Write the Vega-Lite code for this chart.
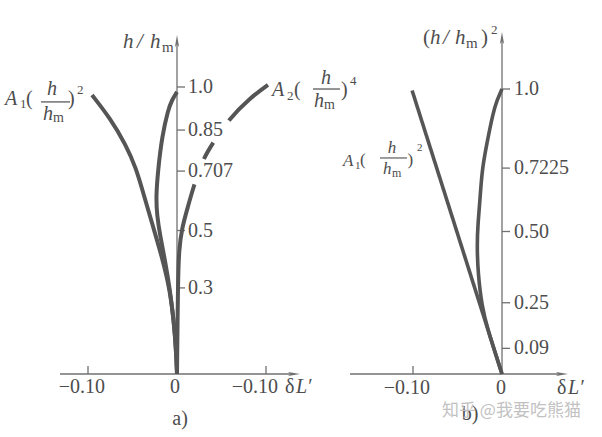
{
  "$schema": "https://vega.github.io/schema/vega-lite/v6.json",
  "padding": 0,
  "background": "white",
  "bounds": "flush",
  "spacing": 0,
  "config": {
    "view": {"stroke": null},
    "axis": {"disable": true},
    "text": {"font": "Liberation Serif", "color": "#4d4d4d", "align": "left", "baseline": "middle", "fontSize": 20}
  },
  "datasets": {
    "a": [
      {"c": "A1", "x": -0.0955, "h": 0.972}, {"c": "A1", "x": -0.0753, "h": 0.892}, {"c": "A1", "x": -0.0573, "h": 0.798}, {"c": "A1", "x": -0.0461, "h": 0.718}, {"c": "A1", "x": -0.0382, "h": 0.634}, {"c": "A1", "x": -0.0281, "h": 0.526}, {"c": "A1", "x": -0.0169, "h": 0.408}, {"c": "A1", "x": -0.0079, "h": 0.293}, {"c": "A1", "x": -0.0034, "h": 0.178}, {"c": "A1", "x": -0.0011, "h": 0.084}, {"c": "A1", "x": 0, "h": 0},
      {"c": "mid", "x": 0, "h": 0.983}, {"c": "mid", "x": -0.0056, "h": 0.955}, {"c": "mid", "x": -0.0101, "h": 0.92}, {"c": "mid", "x": -0.0169, "h": 0.826}, {"c": "mid", "x": -0.0213, "h": 0.711}, {"c": "mid", "x": -0.0236, "h": 0.617}, {"c": "mid", "x": -0.0225, "h": 0.554}, {"c": "mid", "x": -0.0191, "h": 0.484}, {"c": "mid", "x": -0.0135, "h": 0.397}, {"c": "mid", "x": -0.0079, "h": 0.293}, {"c": "mid", "x": -0.0034, "h": 0.178}, {"c": "mid", "x": -0.0011, "h": 0.084}, {"c": "mid", "x": 0, "h": 0},
      {"c": "A2", "x": 0.1022, "h": 1.007}, {"c": "A2", "x": 0.082, "h": 0.962}, {"c": "A2", "x": 0.0573, "h": 0.885}, {"c": "A2", "x": 0.0404, "h": 0.805}, {"c": "A2", "x": 0.0292, "h": 0.749}, {"c": "A2", "x": 0.0191, "h": 0.659}, {"c": "A2", "x": 0.0112, "h": 0.571}, {"c": "A2", "x": 0.0056, "h": 0.509}, {"c": "A2", "x": 0.0022, "h": 0.432}, {"c": "A2", "x": 0.0011, "h": 0.328}, {"c": "A2", "x": 0, "h": 0}
    ],
    "b": [
      {"c": "A1", "x": -0.101, "h2": 0.995}, {"c": "A1", "x": 0, "h2": 0},
      {"c": "mid", "x": 0, "h2": 1.0}, {"c": "mid", "x": -0.0056, "h2": 0.961}, {"c": "mid", "x": -0.0101, "h2": 0.916}, {"c": "mid", "x": -0.0169, "h2": 0.811}, {"c": "mid", "x": -0.0225, "h2": 0.716}, {"c": "mid", "x": -0.0247, "h2": 0.611}, {"c": "mid", "x": -0.027, "h2": 0.53}, {"c": "mid", "x": -0.0281, "h2": 0.453}, {"c": "mid", "x": -0.027, "h2": 0.354}, {"c": "mid", "x": -0.0225, "h2": 0.235}, {"c": "mid", "x": -0.0157, "h2": 0.154}, {"c": "mid", "x": -0.0079, "h2": 0.077}, {"c": "mid", "x": 0, "h2": 0}
    ],
    "ya": [{"v": 0.3, "t": "0.3"}, {"v": 0.5, "t": "0.5"}, {"v": 0.707, "t": "0.707"}, {"v": 0.85, "t": "0.85"}, {"v": 1, "t": "1.0"}],
    "xa": [{"v": -0.1, "t": "−0.10"}, {"v": 0, "t": "0"}, {"v": 0.1, "t": "−0.10"}],
    "yb": [{"v": 0.09, "t": "0.09"}, {"v": 0.25, "t": "0.25"}, {"v": 0.5, "t": "0.50"}, {"v": 0.7225, "t": "0.7225"}, {"v": 1, "t": "1.0"}],
    "xb": [{"v": -0.1, "t": "−0.10"}, {"v": 0, "t": "0"}]
  },
  "hconcat": [
    {
      "width": 301,
      "height": 437,
      "layer": [
        {"data": {"values": [{}]}, "mark": {"type": "rule", "color": "#707070", "strokeWidth": 1.3},
         "encoding": {
           "x": {"datum": -0.1315, "type": "quantitative", "scale": {"domain": [-0.19888, 0.13933], "nice": false, "zero": false}},
           "x2": {"datum": 0.1315},
           "y": {"datum": 0, "type": "quantitative", "scale": {"domain": [-0.21951, 1.30314], "nice": false, "zero": false}}
         }},
        {"data": {"values": [{}]}, "mark": {"type": "rule", "color": "#707070", "strokeWidth": 1.3},
         "encoding": {"x": {"datum": 0}, "y": {"datum": 0}, "y2": {"datum": 1.16}}},
        {"data": {"values": [{}]}, "mark": {"type": "point", "shape": "M0,-1L0.35,1L0,0.55L-0.35,1Z", "size": 144, "filled": true, "color": "#707070", "opacity": 1},
         "encoding": {"x": {"datum": 0}, "y": {"datum": 1.1603}}},
        {"data": {"values": [{}]}, "mark": {"type": "point", "shape": "M1,0L-1,0.35L-0.55,0L-1,-0.35Z", "size": 144, "filled": true, "color": "#707070", "opacity": 1},
         "encoding": {"x": {"datum": 0.1315}, "y": {"datum": 0}}},
        {"data": {"name": "ya"}, "mark": {"type": "tick", "orient": "horizontal", "size": 8, "thickness": 1.3, "xOffset": 4, "color": "#707070", "opacity": 1},
         "encoding": {"x": {"datum": 0}, "y": {"field": "v", "type": "quantitative"}}},
        {"data": {"name": "ya"}, "mark": {"type": "text", "dx": 11},
         "encoding": {"x": {"datum": 0}, "y": {"field": "v", "type": "quantitative"}, "text": {"field": "t"}}},
        {"data": {"name": "xa"}, "transform": [{"filter": "datum.v !== 0"}], "mark": {"type": "tick", "orient": "vertical", "size": 8, "thickness": 1.3, "yOffset": -4, "color": "#707070", "opacity": 1},
         "encoding": {"x": {"field": "v", "type": "quantitative"}, "y": {"datum": 0}}},
        {"data": {"name": "xa"}, "transform": [{"filter": "datum.v < 0"}], "mark": {"type": "text", "align": "right", "baseline": "alphabetic", "dx": 17, "dy": 19},
         "encoding": {"x": {"field": "v", "type": "quantitative"}, "y": {"datum": 0}, "text": {"field": "t"}}},
        {"data": {"name": "xa"}, "transform": [{"filter": "datum.v > 0"}], "mark": {"type": "text", "align": "right", "baseline": "alphabetic", "dx": 12, "dy": 19},
         "encoding": {"x": {"field": "v", "type": "quantitative"}, "y": {"datum": 0}, "text": {"field": "t"}}},
        {"data": {"name": "xa"}, "transform": [{"filter": "datum.v === 0"}], "mark": {"type": "text", "align": "center", "baseline": "alphabetic", "dx": -2, "dy": 19},
         "encoding": {"x": {"field": "v", "type": "quantitative"}, "y": {"datum": 0}, "text": {"field": "t"}}},
        {"data": {"name": "a"}, "transform": [{"filter": "datum.c !== 'A2'"}],
         "mark": {"type": "line", "color": "#555555", "strokeWidth": 4, "interpolate": "basis"},
         "encoding": {"x": {"field": "x", "type": "quantitative"}, "y": {"field": "h", "type": "quantitative"}, "detail": {"field": "c"}, "order": {"value": null}}},
        {"data": {"name": "a"}, "transform": [{"filter": "datum.c === 'A2'"}],
         "mark": {"type": "line", "color": "#555555", "strokeWidth": 4, "interpolate": "basis", "strokeDash": [53, 27, 19, 27, 2000]},
         "encoding": {"x": {"field": "x", "type": "quantitative"}, "y": {"field": "h", "type": "quantitative"}, "order": {"value": null}}},

        {"data": {"values": [{}]}, "mark": {"type": "text", "text": "A", "fontStyle": "italic"}, "encoding": {"x": {"datum": -0.1933}, "y": {"datum": 0.958}}},
        {"data": {"values": [{}]}, "mark": {"type": "text", "text": "1", "fontSize": 13}, "encoding": {"x": {"datum": -0.1764}, "y": {"datum": 0.941}}},
        {"data": {"values": [{}]}, "mark": {"type": "text", "text": "("}, "encoding": {"x": {"datum": -0.1697}, "y": {"datum": 0.958}}},
        {"data": {"values": [{}]}, "mark": {"type": "text", "text": "h", "fontStyle": "italic", "align": "center"}, "encoding": {"x": {"datum": -0.1404}, "y": {"datum": 0.993}}},
        {"data": {"values": [{}]}, "mark": {"type": "rule", "color": "#4d4d4d", "strokeWidth": 1.2}, "encoding": {"x": {"datum": -0.1528}, "x2": {"datum": -0.1202}, "y": {"datum": 0.948}}},
        {"data": {"values": [{}]}, "mark": {"type": "text", "text": "h", "fontStyle": "italic"}, "encoding": {"x": {"datum": -0.1506}, "y": {"datum": 0.906}}},
        {"data": {"values": [{}]}, "mark": {"type": "text", "text": "m", "fontSize": 14}, "encoding": {"x": {"datum": -0.1393}, "y": {"datum": 0.892}}},
        {"data": {"values": [{}]}, "mark": {"type": "text", "text": ")"}, "encoding": {"x": {"datum": -0.1225}, "y": {"datum": 0.958}}},
        {"data": {"values": [{}]}, "mark": {"type": "text", "text": "2", "fontSize": 13}, "encoding": {"x": {"datum": -0.1124}, "y": {"datum": 0.99}}},

        {"data": {"values": [{}]}, "mark": {"type": "text", "text": "A", "fontStyle": "italic"}, "encoding": {"x": {"datum": 0.1067}, "y": {"datum": 0.99}}},
        {"data": {"values": [{}]}, "mark": {"type": "text", "text": "2", "fontSize": 13}, "encoding": {"x": {"datum": 0.1236}, "y": {"datum": 0.969}}},
        {"data": {"values": [{}]}, "mark": {"type": "text", "text": "("}, "encoding": {"x": {"datum": 0.1315}, "y": {"datum": 0.99}}},
        {"data": {"values": [{}]}, "mark": {"type": "text", "text": "h", "fontStyle": "italic", "align": "center"}, "encoding": {"x": {"datum": 0.1674}, "y": {"datum": 1.031}}},
        {"data": {"values": [{}]}, "mark": {"type": "rule", "color": "#4d4d4d", "strokeWidth": 1.2}, "encoding": {"x": {"datum": 0.1528}, "x2": {"datum": 0.1831}, "y": {"datum": 0.993}}},
        {"data": {"values": [{}]}, "mark": {"type": "text", "text": "h", "fontStyle": "italic"}, "encoding": {"x": {"datum": 0.1539}, "y": {"datum": 0.951}}},
        {"data": {"values": [{}]}, "mark": {"type": "text", "text": "m", "fontSize": 14}, "encoding": {"x": {"datum": 0.1652}, "y": {"datum": 0.937}}},
        {"data": {"values": [{}]}, "mark": {"type": "text", "text": ")"}, "encoding": {"x": {"datum": 0.1843}, "y": {"datum": 0.99}}},
        {"data": {"values": [{}]}, "mark": {"type": "text", "text": "4", "fontSize": 13}, "encoding": {"x": {"datum": 0.1944}, "y": {"datum": 1.021}}},

        {"data": {"values": [{}]}, "mark": {"type": "text", "text": "h", "fontStyle": "italic", "fontSize": 21}, "encoding": {"x": {"datum": -0.0607}, "y": {"datum": 1.157}}},
        {"data": {"values": [{}]}, "mark": {"type": "text", "text": "/", "fontStyle": "italic", "fontSize": 21}, "encoding": {"x": {"datum": -0.0449}, "y": {"datum": 1.157}}},
        {"data": {"values": [{}]}, "mark": {"type": "text", "text": "h", "fontStyle": "italic", "fontSize": 21}, "encoding": {"x": {"datum": -0.0303}, "y": {"datum": 1.157}}},
        {"data": {"values": [{}]}, "mark": {"type": "text", "text": "m", "fontSize": 15}, "encoding": {"x": {"datum": -0.0169}, "y": {"datum": 1.14}}},

        {"data": {"values": [{}]}, "mark": {"type": "text", "text": "δ"}, "encoding": {"x": {"datum": 0.1214}, "y": {"datum": -0.0453}}},
        {"data": {"values": [{}]}, "mark": {"type": "text", "text": "L′", "fontStyle": "italic"}, "encoding": {"x": {"datum": 0.1337}, "y": {"datum": -0.0453}}},
        {"data": {"values": [{}]}, "mark": {"type": "text", "text": "a)", "align": "center"}, "encoding": {"x": {"datum": 0.0034}, "y": {"datum": -0.1568}}}
      ]
    },
    {
      "width": 301,
      "height": 437,
      "layer": [
        {"data": {"values": [{}]}, "mark": {"type": "rule", "color": "#707070", "strokeWidth": 1.3},
         "encoding": {
           "x": {"datum": -0.1708, "type": "quantitative", "scale": {"domain": [-0.22584, 0.11236], "nice": false, "zero": false}},
           "x2": {"datum": 0.0674},
           "y": {"datum": 0, "type": "quantitative", "scale": {"domain": [-0.22105, 1.31228], "nice": false, "zero": false}}
         }},
        {"data": {"values": [{}]}, "mark": {"type": "rule", "color": "#707070", "strokeWidth": 1.3},
         "encoding": {"x": {"datum": 0}, "y": {"datum": 0}, "y2": {"datum": 1.1789}}},
        {"data": {"values": [{}]}, "mark": {"type": "point", "shape": "M0,-1L0.35,1L0,0.55L-0.35,1Z", "size": 144, "filled": true, "color": "#707070", "opacity": 1},
         "encoding": {"x": {"datum": 0}, "y": {"datum": 1.1789}}},
        {"data": {"values": [{}]}, "mark": {"type": "point", "shape": "M1,0L-1,0.35L-0.55,0L-1,-0.35Z", "size": 144, "filled": true, "color": "#707070", "opacity": 1},
         "encoding": {"x": {"datum": 0.0674}, "y": {"datum": 0}}},
        {"data": {"name": "yb"}, "mark": {"type": "tick", "orient": "horizontal", "size": 8, "thickness": 1.3, "xOffset": 4, "color": "#707070", "opacity": 1},
         "encoding": {"x": {"datum": 0}, "y": {"field": "v", "type": "quantitative"}}},
        {"data": {"name": "yb"}, "mark": {"type": "text", "dx": 12},
         "encoding": {"x": {"datum": 0}, "y": {"field": "v", "type": "quantitative"}, "text": {"field": "t"}}},
        {"data": {"name": "xb"}, "transform": [{"filter": "datum.v !== 0"}], "mark": {"type": "tick", "orient": "vertical", "size": 8, "thickness": 1.3, "yOffset": -4, "color": "#707070", "opacity": 1},
         "encoding": {"x": {"field": "v", "type": "quantitative"}, "y": {"datum": 0}}},
        {"data": {"name": "xb"}, "transform": [{"filter": "datum.v !== 0"}], "mark": {"type": "text", "align": "right", "baseline": "alphabetic", "dx": 17, "dy": 20},
         "encoding": {"x": {"field": "v", "type": "quantitative"}, "y": {"datum": 0}, "text": {"field": "t"}}},
        {"data": {"name": "xb"}, "transform": [{"filter": "datum.v === 0"}], "mark": {"type": "text", "align": "center", "baseline": "alphabetic", "dx": -1, "dy": 20},
         "encoding": {"x": {"field": "v", "type": "quantitative"}, "y": {"datum": 0}, "text": {"field": "t"}}},
        {"data": {"name": "b"},
         "mark": {"type": "line", "color": "#555555", "strokeWidth": 3.6, "interpolate": "basis"},
         "encoding": {"x": {"field": "x", "type": "quantitative"}, "y": {"field": "h2", "type": "quantitative"}, "detail": {"field": "c"}, "order": {"value": null}}},

        {"data": {"values": [{}]}, "mark": {"type": "text", "text": "A", "fontStyle": "italic", "fontSize": 17}, "encoding": {"x": {"datum": -0.1787}, "y": {"datum": 0.747}}},
        {"data": {"values": [{}]}, "mark": {"type": "text", "text": "1", "fontSize": 11}, "encoding": {"x": {"datum": -0.1652}, "y": {"datum": 0.73}}},
        {"data": {"values": [{}]}, "mark": {"type": "text", "text": "(", "fontSize": 17}, "encoding": {"x": {"datum": -0.1596}, "y": {"datum": 0.751}}},
        {"data": {"values": [{}]}, "mark": {"type": "text", "text": "h", "fontStyle": "italic", "fontSize": 17, "align": "center"}, "encoding": {"x": {"datum": -0.1236}, "y": {"datum": 0.793}}},
        {"data": {"values": [{}]}, "mark": {"type": "rule", "color": "#4d4d4d", "strokeWidth": 1.1}, "encoding": {"x": {"datum": -0.1371}, "x2": {"datum": -0.1067}, "y": {"datum": 0.758}}},
        {"data": {"values": [{}]}, "mark": {"type": "text", "text": "h", "fontStyle": "italic", "fontSize": 17}, "encoding": {"x": {"datum": -0.1337}, "y": {"datum": 0.719}}},
        {"data": {"values": [{}]}, "mark": {"type": "text", "text": "m", "fontSize": 12}, "encoding": {"x": {"datum": -0.1236}, "y": {"datum": 0.705}}},
        {"data": {"values": [{}]}, "mark": {"type": "text", "text": ")", "fontSize": 17}, "encoding": {"x": {"datum": -0.1062}, "y": {"datum": 0.751}}},
        {"data": {"values": [{}]}, "mark": {"type": "text", "text": "2", "fontSize": 11}, "encoding": {"x": {"datum": -0.0955}, "y": {"datum": 0.793}}},

        {"data": {"values": [{}]}, "mark": {"type": "text", "text": "(", "fontSize": 21}, "encoding": {"x": {"datum": -0.0888}, "y": {"datum": 1.179}}},
        {"data": {"values": [{}]}, "mark": {"type": "text", "text": "h", "fontStyle": "italic", "fontSize": 21}, "encoding": {"x": {"datum": -0.0809}, "y": {"datum": 1.179}}},
        {"data": {"values": [{}]}, "mark": {"type": "text", "text": "/", "fontStyle": "italic", "fontSize": 21}, "encoding": {"x": {"datum": -0.0663}, "y": {"datum": 1.179}}},
        {"data": {"values": [{}]}, "mark": {"type": "text", "text": "h", "fontStyle": "italic", "fontSize": 21}, "encoding": {"x": {"datum": -0.0528}, "y": {"datum": 1.179}}},
        {"data": {"values": [{}]}, "mark": {"type": "text", "text": "m", "fontSize": 15}, "encoding": {"x": {"datum": -0.0404}, "y": {"datum": 1.162}}},
        {"data": {"values": [{}]}, "mark": {"type": "text", "text": ")", "fontSize": 21}, "encoding": {"x": {"datum": -0.0236}, "y": {"datum": 1.179}}},
        {"data": {"values": [{}]}, "mark": {"type": "text", "text": "2", "fontSize": 13}, "encoding": {"x": {"datum": -0.0124}, "y": {"datum": 1.207}}},

        {"data": {"values": [{}]}, "mark": {"type": "text", "text": "δ"}, "encoding": {"x": {"datum": 0.0618}, "y": {"datum": -0.0491}}},
        {"data": {"values": [{}]}, "mark": {"type": "text", "text": "L′", "fontStyle": "italic"}, "encoding": {"x": {"datum": 0.0742}, "y": {"datum": -0.0491}}},
        {"data": {"values": [{}]}, "mark": {"type": "text", "text": "b)", "align": "center"}, "encoding": {"x": {"datum": -0.036}, "y": {"datum": -0.1404}}},
        {"data": {"values": [{}]}, "mark": {"type": "text", "text": "知乎 @我要吃熊猫", "font": "Noto Sans CJK SC", "fontSize": 17, "color": "#c2c2c2"}, "encoding": {"x": {"datum": -0.0674}, "y": {"datum": -0.1298}}}
      ]
    }
  ]
}
